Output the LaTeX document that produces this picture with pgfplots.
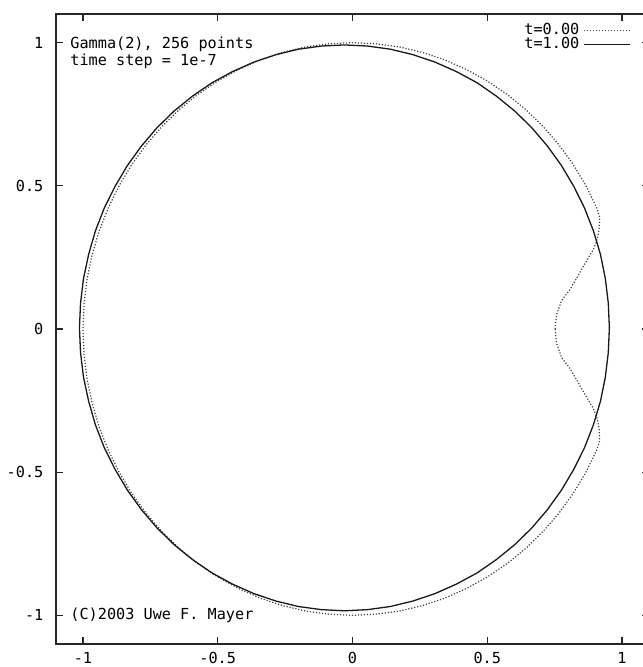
\documentclass[border=0pt]{standalone}
\usepackage{fontspec}
\setmainfont{DejaVu Sans Mono}
\usepackage{pgfplots}
\pgfplotsset{compat=1.18}
\begin{document}
\begin{tikzpicture}[font=\fontsize{7.6}{9}\selectfont]
\begin{axis}[
  scale only axis, width=296.5pt, height=315pt,
  xmin=-1.1, xmax=1.1, ymin=-1.1, ymax=1.1,
  xtick={-1,-0.5,0,0.5,1}, ytick={-1,-0.5,0,0.5,1},
  tick align=inside, major tick length=3.5pt,
  axis line style={line width=0.6pt, black!85},
  every tick/.style={black!85, line width=0.6pt},
  /pgf/number format/assume math mode=true,
  xticklabel style={yshift=-0.8pt},
  yticklabel style={xshift=-2.8pt},
  ticklabel style={font=\fontsize{7.6}{9}\selectfont},
  legend plot pos=right,
  legend cell align=right,
  legend style={draw=none, fill=none, at={(1,1)}, anchor=north east,
    xshift=-9pt, yshift=-2.5pt, inner sep=0pt, row sep=-4pt,
    font=\fontsize{7.6}{9}\selectfont},
  legend image code/.code={\draw[#1] (0pt,0pt) -- (23pt,0pt);},
]
\addplot[black!75, line width=0.6pt, dash pattern=on 0.6pt off 0.9pt] coordinates {
(0.752,0) (0.757,0.05) (0.776,0.10) (0.807,0.138) (0.833,0.18) (0.856,0.218)
(0.876,0.25) (0.893,0.277) (0.903,0.30) (0.909,0.319) (0.915,0.35) (0.917,0.39)
(0.906,0.423) (0.866,0.500) (0.819,0.574) (0.766,0.643) (0.707,0.707) (0.643,0.766)
(0.574,0.819) (0.500,0.866) (0.423,0.906) (0.342,0.940) (0.259,0.966) (0.174,0.985)
(0.087,0.996) (0,1) (-0.087,0.996) (-0.174,0.985) (-0.259,0.966) (-0.342,0.940)
(-0.423,0.906) (-0.500,0.866) (-0.574,0.819) (-0.643,0.766) (-0.707,0.707) (-0.766,0.643)
(-0.819,0.574) (-0.866,0.500) (-0.906,0.423) (-0.940,0.342) (-0.966,0.259) (-0.985,0.174)
(-0.996,0.087) (-1,0) (-0.996,-0.087) (-0.985,-0.174) (-0.966,-0.259) (-0.940,-0.342)
(-0.906,-0.423) (-0.866,-0.500) (-0.819,-0.574) (-0.766,-0.643) (-0.707,-0.707) (-0.643,-0.766)
(-0.574,-0.819) (-0.500,-0.866) (-0.423,-0.906) (-0.342,-0.940) (-0.259,-0.966) (-0.174,-0.985)
(-0.087,-0.996) (0,-1) (0.087,-0.996) (0.174,-0.985) (0.259,-0.966) (0.342,-0.940)
(0.423,-0.906) (0.500,-0.866) (0.574,-0.819) (0.643,-0.766) (0.707,-0.707) (0.766,-0.643)
(0.819,-0.574) (0.866,-0.500) (0.906,-0.423)
(0.917,-0.39) (0.915,-0.35) (0.909,-0.319) (0.903,-0.30) (0.893,-0.277) (0.876,-0.25)
(0.856,-0.218) (0.833,-0.18) (0.807,-0.138) (0.776,-0.10) (0.757,-0.05) (0.752,0)
};
\addlegendentry{t=0.00}
\addplot[black!90, line width=0.65pt] coordinates {
(0.953,0.004) (0.949,0.090) (0.938,0.176) (0.920,0.260) (0.894,0.342) (0.861,0.422)
(0.821,0.498) (0.775,0.571) (0.723,0.639) (0.665,0.703) (0.602,0.761) (0.534,0.813)
(0.462,0.860) (0.385,0.899) (0.306,0.932) (0.224,0.958) (0.141,0.977) (0.056,0.988)
(-0.030,0.992) (-0.116,0.988) (-0.201,0.977) (-0.284,0.958) (-0.366,0.932) (-0.445,0.899)
(-0.521,0.860) (-0.594,0.813) (-0.662,0.761) (-0.725,0.703) (-0.783,0.639) (-0.835,0.571)
(-0.881,0.498) (-0.921,0.422) (-0.954,0.342) (-0.979,0.260) (-0.998,0.176) (-1.009,0.090)
(-1.013,0.004) (-1.009,-0.082) (-0.998,-0.168) (-0.979,-0.252) (-0.954,-0.334) (-0.921,-0.414)
(-0.881,-0.490) (-0.835,-0.563) (-0.783,-0.631) (-0.725,-0.695) (-0.662,-0.753) (-0.594,-0.805)
(-0.521,-0.852) (-0.445,-0.891) (-0.366,-0.924) (-0.284,-0.950) (-0.201,-0.969) (-0.116,-0.980)
(-0.030,-0.984) (0.056,-0.980) (0.141,-0.969) (0.224,-0.950) (0.306,-0.924) (0.385,-0.891)
(0.462,-0.852) (0.534,-0.805) (0.602,-0.753) (0.665,-0.695) (0.723,-0.631) (0.775,-0.563)
(0.821,-0.490) (0.861,-0.414) (0.894,-0.334) (0.920,-0.252) (0.938,-0.168) (0.949,-0.082)
(0.953,0.004)
};
\addlegendentry{t=1.00}
\node[anchor=west, inner sep=0pt] at (axis cs:-1.048,0.995) {Gamma(2), 256 points};
\node[anchor=west, inner sep=0pt] at (axis cs:-1.048,0.936) {time step = 1e-7};
\node[anchor=west, inner sep=0pt] at (axis cs:-1.048,-1) {(C)2003 Uwe F. Mayer};
\end{axis}
\pgfresetboundingbox
\useasboundingbox ([xshift=-28pt,yshift=-11.5pt]current axis.south west) rectangle ([xshift=-3.5pt,yshift=7pt]current axis.north east);
\end{tikzpicture}
\end{document}
